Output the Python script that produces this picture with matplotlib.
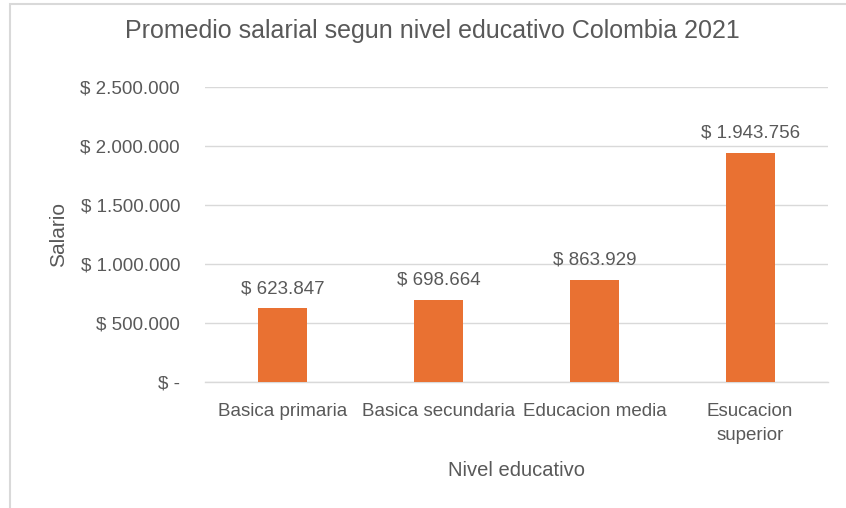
import matplotlib.pyplot as plt
from matplotlib.patches import Rectangle

niveles = ['Basica primaria', 'Basica secundaria', 'Educacion media', 'Esucacion\nsuperior']
salarios = [623847, 698664, 863929, 1943756]
ticks_y = [0, 500000, 1000000, 1500000, 2000000, 2500000]

naranja = '#E97132'
gris = '#595959'

def pesos(v):
    if v == 0:
        return '$ -'
    return '$ ' + f'{v:,.0f}'.replace(',', '.')

plt.rcParams['font.family'] = ['Liberation Sans', 'DejaVu Sans']

fig = plt.figure(figsize=(8.46, 5.08), dpi=100)
# marco del grafico (borde gris arriba y a la izquierda)
fig.patches.append(Rectangle((10/846, -0.1), 1.2, 1 - 4/508 + 0.1, transform=fig.transFigure,
                             fill=False, edgecolor='#D9D9D9', linewidth=1.5))

ax = fig.add_axes([205/846, 1 - 382/508, (828-205)/846, (382-87)/508])
x = range(len(niveles))
barras = ax.bar(x, salarios, width=0.315, color=naranja, zorder=3)

for b, v in zip(barras, salarios):
    ax.annotate(pesos(v), (b.get_x() + b.get_width()/2, v), xytext=(0, 8),
                textcoords='offset points', ha='center', va='bottom',
                fontsize=13.5, color=gris)

ax.set_xlim(-0.5, len(niveles) - 0.5)
ax.set_ylim(0, 2500000)
ax.set_yticks(ticks_y)
ax.set_yticklabels([pesos(t) for t in ticks_y])
ax.set_xticks(list(x))
ax.set_xticklabels(niveles, linespacing=1.55)
ax.grid(axis='y', color='#D9D9D9', linewidth=1, zorder=0)
for s in ['top', 'right', 'left']:
    ax.spines[s].set_visible(False)
ax.spines['bottom'].set_color('#D9D9D9')
ax.spines['bottom'].set_linewidth(1)
ax.tick_params(axis='both', length=0, colors=gris, labelsize=13.5)
ax.tick_params(axis='y', pad=18)
ax.tick_params(axis='x', pad=15)

ax.set_ylabel('Salario', fontsize=15, color=gris, labelpad=9)
ax.set_xlabel('Nivel educativo', fontsize=14.5, color=gris, labelpad=12)

fig.text(432/846, 1 - 31/508, 'Promedio salarial segun nivel educativo Colombia 2021',
         ha='center', va='center', fontsize=18, color=gris)

fig.savefig('out.png', dpi=100)
